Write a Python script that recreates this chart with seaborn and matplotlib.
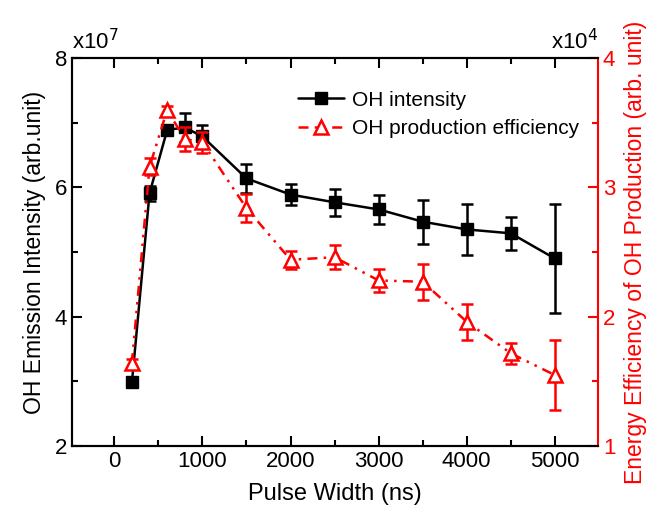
import numpy as np
import pandas as pd
import matplotlib
matplotlib.use("Agg")
import matplotlib.pyplot as plt
from matplotlib.ticker import MultipleLocator
import seaborn as sns

# values (left axis in 1e7, right axis in 1e4)
pulse_width = [200, 400, 600, 800, 1000, 1500, 2000, 2500, 3000, 3500, 4000, 4500, 5000]
oh_intensity = [2.98, 5.91, 6.89, 6.93, 6.79, 6.14, 5.89, 5.77, 5.66, 5.47, 5.35, 5.29, 4.90]
oh_intensity_err = [0.04, 0.12, 0.05, 0.23, 0.17, 0.23, 0.16, 0.21, 0.23, 0.34, 0.39, 0.26, 0.85]
oh_efficiency = [1.64, 3.16, 3.60, 3.375, 3.35, 2.84, 2.44, 2.46, 2.28, 2.27, 1.96, 1.716, 1.547]
oh_efficiency_err = [0.03, 0.065, 0.03, 0.09, 0.08, 0.107, 0.07, 0.095, 0.09, 0.14, 0.14, 0.08, 0.27]

df = pd.DataFrame({"pw": pulse_width, "oh": oh_intensity, "oh_err": oh_intensity_err,
                   "eff": oh_efficiency, "eff_err": oh_efficiency_err})

sns.set_style("ticks")
plt.rcParams['font.family'] = ['Liberation Sans', 'DejaVu Sans']
plt.rcParams['font.size'] = 15
plt.rcParams['text.color'] = 'black'
plt.rcParams['axes.labelcolor'] = 'black'
plt.rcParams['xtick.color'] = 'black'
plt.rcParams['ytick.color'] = 'black'
plt.rcParams['axes.edgecolor'] = 'black'

fig = plt.figure(figsize=(6.51, 5.21), dpi=100)
ax = fig.add_axes([0.1106, 0.1445, 0.808, 0.7435])
ax2 = ax.twinx()

red = '#ff0000'

# black series
ax.errorbar(df["pw"], df["oh"], yerr=df["oh_err"], fmt='none', ecolor='black',
            elinewidth=1.8, capsize=4, capthick=1.8, zorder=2)
sns.lineplot(data=df, x="pw", y="oh", ax=ax, color='black', marker='s', markersize=8,
             markeredgecolor='black', markeredgewidth=1, linewidth=1.8,
             errorbar=None, label='OH intensity', zorder=3)

# red series
ax2.errorbar(df["pw"], df["eff"], yerr=df["eff_err"], fmt='none', ecolor=red,
             elinewidth=1.8, capsize=4, capthick=1.8, zorder=2)
sns.lineplot(data=df, x="pw", y="eff", ax=ax2, color=red, marker='^', markersize=10,
             markerfacecolor='white', markeredgecolor=red, markeredgewidth=1.8,
             linewidth=1.8, linestyle=(0, (4, 2.5, 1, 2.5, 1, 2.5)),
             errorbar=None, label='OH production efficiency', zorder=3)

ax.set_xlim(-480, 5490)
ax.set_ylim(2, 8)
ax2.set_ylim(1, 4)

ax.xaxis.set_major_locator(MultipleLocator(1000))
ax.xaxis.set_minor_locator(MultipleLocator(500))
ax.yaxis.set_major_locator(MultipleLocator(2))
ax.yaxis.set_minor_locator(MultipleLocator(1))
ax2.yaxis.set_major_locator(MultipleLocator(1))
ax2.yaxis.set_minor_locator(MultipleLocator(0.5))

ax.tick_params(axis='both', which='both', direction='in', top=True, labelsize=16, width=1.5)
ax.tick_params(axis='both', which='major', length=7)
ax.tick_params(axis='both', which='minor', length=4)
ax.tick_params(axis='y', which='both', right=False)
ax2.tick_params(axis='y', which='both', direction='in', colors=red, labelsize=16, width=1.5)
ax2.tick_params(axis='y', which='major', length=7)
ax2.tick_params(axis='y', which='minor', length=4)

for s in ['left', 'top', 'bottom']:
    ax.spines[s].set_linewidth(1.5)
    ax2.spines[s].set_linewidth(1.5)
ax2.spines['right'].set_color(red)
ax2.spines['right'].set_linewidth(1.5)
ax.spines['right'].set_visible(False)

ax.set_xlabel('Pulse Width (ns)', fontsize=17, labelpad=8)
ax.set_ylabel('OH Emission Intensity (arb.unit)', fontsize=16.5, labelpad=6)
ax2.set_ylabel('Energy Efficiency of OH Production (arb. unit)', fontsize=16.5, color=red, labelpad=6)

ax.text(0.0, 1.01, r'x10$^{7}$', transform=ax.transAxes, fontsize=16, ha='left', va='bottom')
ax2.text(1.0, 1.01, r'x10$^{4}$', transform=ax2.transAxes, fontsize=16, ha='right', va='bottom')

h1, l1 = ax.get_legend_handles_labels()
h2, l2 = ax2.get_legend_handles_labels()
if ax.get_legend() is not None:
    ax.get_legend().remove()
ax2.legend(h1 + h2, l1 + l2, loc='upper right', bbox_to_anchor=(1.0, 0.965), frameon=False,
           fontsize=15, handlelength=2.2, handletextpad=0.4, labelspacing=0.45)

fig.savefig('out.png', dpi=100)
